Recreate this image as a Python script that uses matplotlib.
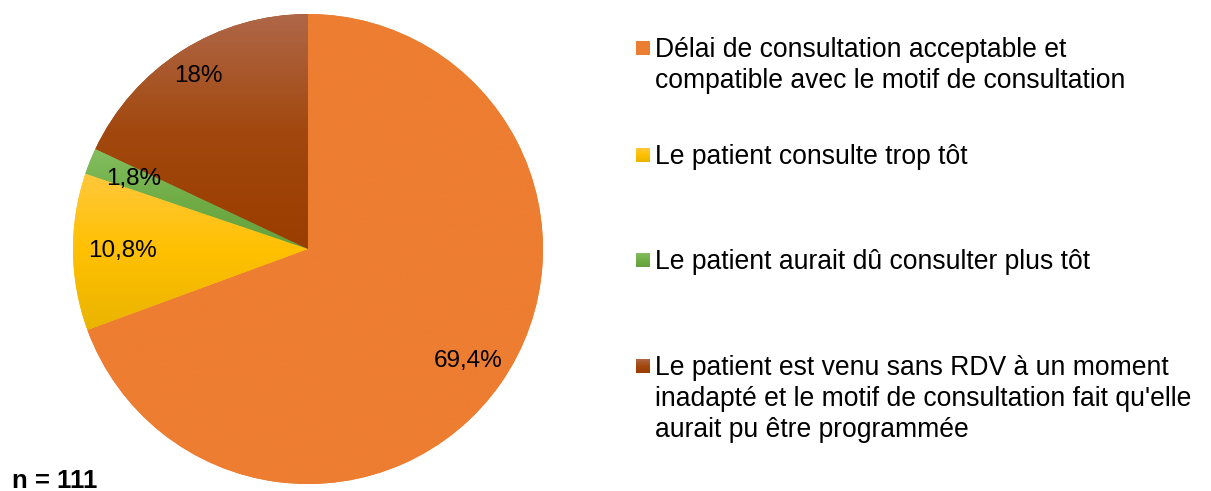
import numpy as np
import matplotlib
matplotlib.use("Agg")
import matplotlib.pyplot as plt
from matplotlib.colors import LinearSegmentedColormap

# ---------------- data ----------------
categories = [
    "Délai de consultation acceptable et\ncompatible avec le motif de consultation",
    "Le patient consulte trop tôt",
    "Le patient aurait dû consulter plus tôt",
    "Le patient est venu sans RDV à un moment\ninadapté et le motif de consultation fait qu'elle\naurait pu être programmée",
]
values = [69.4, 10.8, 1.8, 18.0]
value_labels = ["69,4%", "10,8%", "1,8%", "18%"]
sample_label = "n = 111"

# ---------------- style ----------------
# gradient stops per slice (top, middle, bottom)
gradients = [
    ("#ED7D31", "#ED7D31", "#ED7D31"),
    ("#FFC83C", "#FFC000", "#EAB400"),
    ("#84BE60", "#70AD47", "#64A03B"),
    ("#AF6748", "#A2480E", "#9A3D00"),
]
label_radius = [0.83, 0.79, 0.80, 0.87]
legend_baselines = [57, 164, 269, 375]
line_step = 31

plt.rcParams['font.family'] = ['Liberation Sans', 'DejaVu Sans']

W, H = 1211, 491
fig = plt.figure(figsize=(W / 100, H / 100), dpi=100)

cx, cy, R = 308, 249, 235
ax = fig.add_axes([(cx - R) / W, (H - cy - R) / H, 2 * R / W, 2 * R / H])
wedges, _ = ax.pie(values, startangle=90, counterclock=False,
                   colors=[g[1] for g in gradients], radius=1,
                   wedgeprops=dict(linewidth=0))
ax.set_xlim(-1, 1)
ax.set_ylim(-1, 1)
ax.set_aspect('equal')
ax.axis('off')

grad = np.linspace(0, 1, 256).reshape(-1, 1)
for w, g in zip(wedges, gradients):
    cmap = LinearSegmentedColormap.from_list("g", list(g))
    ext = w.get_path().get_extents()
    im = ax.imshow(grad, cmap=cmap, extent=[ext.x0, ext.x1, ext.y0, ext.y1],
                   origin='upper', aspect='auto', interpolation='bilinear', zorder=2)
    im.set_clip_path(w)
ax.set_xlim(-1, 1)
ax.set_ylim(-1, 1)

for w, lab, rf in zip(wedges, value_labels, label_radius):
    ang = np.deg2rad((w.theta1 + w.theta2) / 2)
    ax.text(rf * np.cos(ang), rf * np.sin(ang), lab, ha='center', va='center',
            fontsize=17.5, color='black', zorder=5)

# overlay axes in pixel coordinates for legend + note
ov = fig.add_axes([0, 0, 1, 1])
ov.set_xlim(0, W)
ov.set_ylim(H, 0)
ov.axis('off')

for lab, g, yb in zip(categories, gradients, legend_baselines):
    cmap = LinearSegmentedColormap.from_list("g", list(g))
    ov.imshow(grad, cmap=cmap, extent=[636, 650, yb - 2, yb - 16],
              origin='upper', aspect='auto', interpolation='bilinear')
    for i, line in enumerate(lab.split("\n")):
        ov.text(655, yb + i * line_step, line, ha='left', va='baseline',
                fontsize=19.1, color='black')

ov.text(12, 488, sample_label, ha='left', va='baseline', fontsize=18.5,
        fontweight='bold', color='black')
ov.set_xlim(0, W)
ov.set_ylim(H, 0)

fig.savefig("out.png", dpi=100, facecolor='white')
